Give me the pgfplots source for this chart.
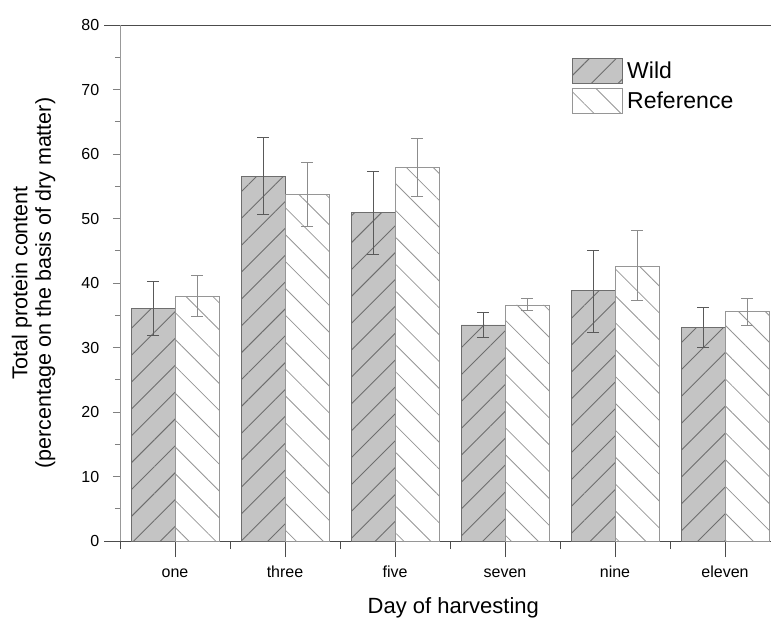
\documentclass[border=0pt]{standalone}
\usepackage{pgfplots}
\pgfplotsset{compat=1.18}
\usepackage{pgfplotstable}
\usepackage{fontspec}
\setmainfont{Liberation Sans}
\usetikzlibrary{patterns.meta}
\definecolor{wildfill}{RGB}{196,196,196}
\definecolor{hatchdark}{RGB}{110,110,110}
\definecolor{hatchlight}{RGB}{150,150,150}
\pgfplotstableread{
x w wp wm r rp rm
0 36.0 4.2 4.2 37.9 3.3 3.1
1 56.5 6.1 5.9 53.7 5.0 5.0
2 50.9 6.4 6.5 57.9 4.5 4.5
3 33.5 1.9 2.0 36.6 1.0 0.8
4 38.8 6.3 6.5 42.6 5.5 5.3
5 33.1 3.1 3.1 35.6 2.0 2.2
}\data
\begin{document}
\begin{tikzpicture}
\useasboundingbox (0,0) rectangle (771pt,621pt);
\begin{axis}[
  name=ax, at={(120pt,80pt)}, anchor=south west,
  scale only axis, width=651pt, height=516pt,
  xmin=-0.5, xmax=5.418, ymin=0, ymax=80,
  axis x line*=box, axis y line*=left,
  x axis line style={draw=black!70, line width=0.8pt},
  y axis line style={draw=black!40, line width=0.8pt},
  xtick={0,...,5}, xticklabels={one,three,five,seven,nine,eleven},
  minor xtick={-0.5,0.5,...,4.5},
  ytick={0,10,...,80}, minor ytick={5,15,...,75},
  xtick pos=bottom, ytick pos=left,
  tick align=outside,
  major x tick style={draw=black!70, line width=0.8pt, /pgfplots/major tick length=16pt},
  minor x tick style={draw=black!70, line width=0.8pt, /pgfplots/minor tick length=8pt},
  major y tick style={draw=black!50, line width=0.8pt, /pgfplots/major tick length=7pt},
  minor y tick style={draw=black!50, line width=0.8pt, /pgfplots/minor tick length=5pt},
  /pgf/number format/assume math mode=true,
  tick label style={font=\fontsize{16}{18}\selectfont},
  xticklabel style={yshift=-17pt, text height=11.5pt, text depth=3pt},
  yticklabel style={xshift=-13pt},
  xlabel={Day of harvesting},
  xlabel style={at={(axis cs:2.53,0)}, anchor=center, yshift=-67pt, font=\fontsize{22}{24}\selectfont},
  ylabel={Total protein content\\(percentage on the basis of dry matter)},
  ylabel style={at={([xshift=-86.5pt]axis description cs:0,0.5)}, anchor=center, align=center, font=\fontsize{21.5}{23.5}\selectfont},
  ybar=0pt, bar width=44pt,
  legend style={at={(0.69,0.94)}, anchor=north west, draw=none, fill=none,
    font=\fontsize{23}{25}\selectfont, row sep=4pt,
    /tikz/every even column/.append style={column sep=6pt}},
  legend cell align=left,
  legend image code/.code={\draw[#1] (0pt,-12.5pt) rectangle (50pt,12.5pt);},
  clip=false,
]
\addplot[fill=wildfill, draw=hatchdark, line width=0.8pt,
  postaction={pattern={Lines[angle=45,distance=19pt,line width=0.9pt]}, pattern color=hatchdark},
  error bars/.cd, y dir=both, y explicit,
  error bar style={draw=black!65, line width=0.9pt},
  error mark options={rotate=90, mark size=6pt, line width=0.9pt, draw=black!65}]
  table[x=x, y=w, y error plus=wp, y error minus=wm]{\data};
\addlegendentry{\hspace{2pt}Wild}
\addplot[fill=white, draw=hatchlight, line width=0.8pt,
  postaction={pattern={Lines[angle=-45,distance=19pt,line width=0.8pt]}, pattern color=hatchlight},
  error bars/.cd, y dir=both, y explicit,
  error bar style={draw=black!45, line width=0.9pt},
  error mark options={rotate=90, mark size=6pt, line width=0.9pt, draw=black!45}]
  table[x=x, y=r, y error plus=rp, y error minus=rm]{\data};
\addlegendentry{\hspace{2pt}Reference}
\end{axis}
\draw[black!70, line width=0.8pt] (ax.south west) ++(-16pt,0) -- (ax.south west);
\draw[black!70, line width=0.8pt] (ax.north west) ++(-16pt,0) -- (ax.north west);
\end{tikzpicture}
\end{document}
